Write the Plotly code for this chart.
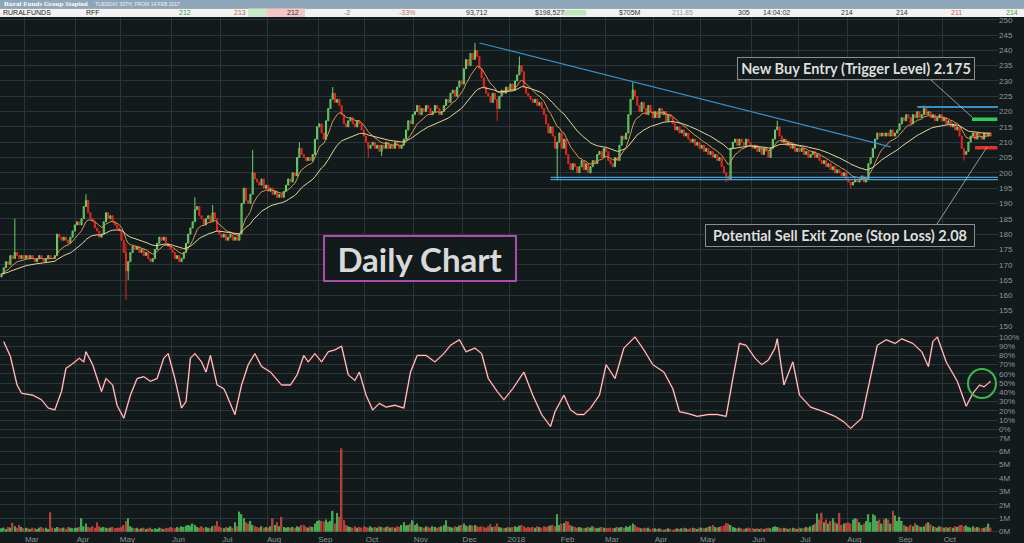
import pandas as pd
import plotly.graph_objects as go

# ---------------- DATA (prices in cents) ----------------
start_date = "2017-02-14"
first_open = 166

close_2017 = [
    # Feb (from 14th)
    167, 169, 171, 170, 173, 172, 174, 173, 172, 173, 172,
    # Mar
    173, 172, 173, 172, 171, 172, 173, 172, 171, 172, 173, 172, 172, 173, 180, 179, 178, 179, 178, 177, 179, 181, 183,
    # Apr
    184, 183, 185, 189, 191, 187, 185, 184, 182, 181, 179, 180, 184, 187, 185, 186, 184, 183, 182, 181,
    # May
    178, 174, 168, 171, 174, 176, 175, 176, 174, 175, 173, 174, 172, 171, 172, 175, 177, 179, 178, 179, 177, 176, 175,
    # Jun
    174, 172, 173, 171, 172, 174, 177, 180, 182, 184, 188, 189, 186, 185, 183, 185, 186, 184, 187, 185, 181, 180,
    # Jul
    179, 180, 178, 179, 180, 178, 179, 178, 180, 190, 195, 191, 190, 193, 200, 198, 197, 196, 198, 195, 196,
    # Aug
    194, 195, 193, 194, 192, 193, 192, 194, 196, 198, 197, 200, 199, 205, 208, 206, 205, 204, 205, 204, 206, 211, 215,
    # Sep
    216, 213, 211, 217, 221, 224, 226, 223, 224, 222, 219, 216, 215, 217, 218, 216, 215, 217, 216, 214, 212,
    # Oct
    210, 208, 209, 210, 208, 209, 207, 209, 208, 210, 208, 209, 208, 210, 209, 208, 209, 211, 214, 217, 216, 219,
    # Nov
    220, 222, 219, 221, 220, 222, 221, 219, 220, 222, 221, 219, 220, 222, 224, 223, 226, 227, 225, 228, 230, 229,
    # Dec
    234, 237, 235, 239, 237, 240, 238, 234, 231, 228, 226, 225, 223, 226, 224, 221, 225, 227, 226, 228, 227,
]

close_2018 = [
    # Jan
    229, 227, 230, 232, 235, 233, 228, 226, 225, 224, 223, 224, 222, 223, 221, 219, 216, 213, 215, 212, 208, 210, 213,
    # Feb
    208, 211, 206, 203, 201, 203, 202, 200, 202, 204, 201, 203, 200, 202, 204, 203, 206, 207, 205, 208,
    # Mar
    207, 204, 203, 202, 205, 204, 209, 212, 211, 213, 219, 224, 227, 225, 222, 220, 223, 221, 219, 222, 220, 218,
    # Apr
    220, 218, 221, 219, 220, 217, 219, 218, 216, 214, 215, 213, 214, 212, 213, 211, 210, 211, 209, 210, 208,
    # May
    209, 207, 208, 206, 207, 205, 206, 204, 205, 202, 200, 199, 198, 208, 210, 211, 209, 211, 210, 209, 211, 210, 209,
    # Jun
    208, 209, 207, 208, 206, 208, 207, 205, 208, 211, 214, 215, 212, 210, 211, 209, 210, 208, 209, 207, 208,
    # Jul
    207, 208, 206, 207, 205, 206, 207, 205, 206, 204, 203, 204, 202, 203, 201, 202, 200, 201, 200, 199, 200, 198,
    # Aug
    197, 196, 197, 198, 197, 198, 199, 197, 198, 203, 205, 208, 211, 213, 212, 213, 212, 213, 212, 214, 212, 213, 214,
    # Sep
    216, 218, 217, 219, 218, 216, 219, 218, 220, 218, 219, 221, 219, 220, 218, 219, 217, 218, 219, 217,
    # Oct
    218, 216, 217, 215, 216, 214, 215, 212, 208, 206, 207, 210, 212, 213, 211, 213, 212, 211, 213, 212, 213, 212,
]

# notable wicks: day index -> (high, low)  (None = body edge)
wicks = {
    6: (185, None), 38: (193, None), 56: (177, 158.5), 57: (None, 165), 87: (192, None),
    95: (189.5, None), 113: (207.5, None), 134: (210, None), 149: (228, None), 165: (None, 205),
    171: (None, 205.5), 213: (242.4, None), 223: (None, 217), 233: (238, None), 250: (None, 197.7),
    284: (229.5, None), 326: (None, 197), 349: (217, None), 382: (None, 195), 415: (222, None),
    433: (None, 204),
}

# volume in millions
vol_2017 = [
    0.25, 0.3, 0.2, 0.35, 0.3, 0.65, 0.4, 0.3, 0.5, 0.35, 0.25,
    0.3, 0.25, 0.2, 0.3, 0.25, 0.2, 0.3, 0.35, 0.25, 0.3, 0.2, 1.45, 0.3, 0.25, 0.35, 0.3, 0.25, 0.3, 0.2, 0.35, 0.3, 0.25, 0.3,
    0.3, 0.35, 1.0, 0.4, 0.6, 0.35, 0.3, 0.4, 0.3, 0.7, 0.4, 0.3, 0.35, 0.3, 0.25, 0.3, 0.35, 0.25, 0.3, 0.3,
    0.35, 0.5, 0.8, 1.0, 0.4, 0.3, 0.25, 0.3, 0.2, 0.25, 0.3, 0.2, 0.25, 0.3, 0.2, 0.25, 0.2, 0.3, 0.25, 0.2, 0.3, 0.25, 0.35,
    0.3, 0.25, 0.35, 0.3, 0.4, 0.35, 0.45, 0.5, 0.45, 0.6, 0.5, 0.35, 0.3, 0.4, 0.3, 0.35, 0.3, 0.25, 0.4, 0.45, 0.8, 0.4,
    0.3, 0.25, 0.35, 0.3, 0.4, 0.3, 0.7, 0.4, 1.5, 1.3, 1.0, 0.7, 0.6, 0.8, 0.5, 0.4, 0.35, 0.3, 0.4, 0.3, 0.35,
    0.3, 0.4, 1.0, 0.5, 0.7, 0.4, 1.1, 0.35, 0.3, 0.35, 0.3, 0.35, 0.3, 0.4, 0.35, 0.5, 0.5, 0.35, 0.3, 0.4, 0.35, 0.6, 0.8,
    0.85, 0.8, 0.75, 0.9, 0.7, 0.8, 1.55, 0.6, 1.4, 1.1, 6.2, 0.85, 0.5, 0.4, 0.35, 0.3, 0.4, 0.3, 0.35, 0.3, 0.4,
    0.35, 0.3, 0.4, 0.3, 0.35, 0.3, 0.4, 0.35, 0.3, 0.35, 0.4, 0.3, 0.35, 0.3, 0.4, 0.35, 0.5, 0.7, 0.45, 0.5, 0.6, 0.85,
    0.5, 0.6, 0.4, 0.35, 0.3, 0.4, 0.35, 0.3, 0.4, 0.35, 0.3, 0.35, 0.4, 0.5, 0.85, 0.4, 0.35, 0.3, 0.4, 0.35, 0.45, 0.5,
    0.6, 0.45, 0.4, 0.5, 0.45, 0.5, 0.4, 0.35, 0.4, 0.35, 0.3, 0.4, 0.55, 0.35, 0.4, 0.6, 0.35, 0.3, 0.25, 0.3, 0.35,
]
vol_2018 = [
    0.3, 0.35, 0.4, 0.35, 0.45, 0.5, 0.4, 0.3, 0.35, 0.3, 0.35, 0.3, 0.4, 0.35, 0.3, 0.4, 0.35, 0.4, 0.45, 0.5, 0.4, 1.3, 0.5,
    0.6, 0.65, 0.8, 0.75, 0.5, 0.4, 0.35, 0.3, 0.35, 0.3, 0.25, 0.3, 0.35, 0.3, 0.4, 0.3, 0.25, 0.3, 0.35, 0.3,
    0.3, 0.25, 0.3, 0.25, 0.3, 0.35, 0.3, 0.35, 0.3, 0.4, 0.35, 0.45, 0.6, 0.5, 0.35, 0.3, 0.25, 0.3, 0.25, 0.3, 0.2, 0.25,
    0.25, 0.2, 0.25, 0.2, 0.15, 0.2, 0.25, 0.2, 0.15, 0.2, 0.25, 0.2, 0.25, 0.3, 0.25, 0.2, 0.25, 0.3, 0.25, 0.2, 0.3,
    0.3, 0.25, 0.3, 0.35, 0.4, 0.5, 0.35, 0.3, 0.35, 0.4, 0.45, 0.65, 0.6, 0.5, 0.35, 0.3, 0.25, 0.3, 0.25, 0.2, 0.25, 0.3, 0.25,
    0.25, 0.2, 0.25, 0.2, 0.25, 0.2, 0.25, 0.3, 0.25, 0.35, 0.4, 0.35, 0.3, 0.25, 0.3, 0.25, 0.2, 0.25, 0.3, 0.25, 0.2,
    0.3, 0.25, 0.3, 0.35, 0.3, 0.4, 0.5, 0.6, 1.35, 0.9, 1.4, 0.7, 0.9, 0.6, 0.8, 1.0, 0.7, 0.6, 1.4, 0.5, 0.6, 0.65,
    0.7, 0.6, 0.9, 1.0, 0.95, 0.7, 0.5, 0.6, 0.8, 1.3, 0.7, 1.3, 1.2, 0.8, 0.9, 0.6, 0.9, 1.0, 0.9, 0.6, 1.55, 1.2, 0.8,
    1.1, 0.8, 0.5, 0.4, 0.35, 0.5, 0.4, 0.65, 0.5, 0.4, 0.35, 0.4, 0.6, 0.7, 0.55, 0.4, 0.35, 0.3, 0.4, 0.35,
    0.3, 0.35, 0.3, 0.35, 0.3, 0.4, 0.35, 0.45, 0.5, 0.4, 0.45, 0.35, 0.3, 0.4, 0.3, 0.35, 0.3, 0.25, 0.3, 0.35, 0.6, 0.3,
]

# stochastic oscillator (%), sampled at trading-day indices
osc_day = [1, 4, 7, 9, 14, 18, 21, 24, 27, 29, 32, 35, 37, 38, 41, 44, 45, 47, 50, 52, 55, 58, 61, 64, 67, 70,
           73, 75, 78, 81, 83, 85, 87, 90, 92, 94, 97, 100, 101, 105, 108, 111, 114, 117, 121, 126, 130, 133,
           136, 138, 141, 144, 147, 150, 153, 156, 159, 161, 164, 167, 170, 173, 177, 181, 184, 187, 191, 195,
           199, 202, 206, 209, 213, 216, 219, 223, 226, 230, 235, 239, 243, 247, 249, 253, 256, 259, 262, 265,
           269, 272, 276, 280, 285, 289, 293, 298, 302, 305, 309, 313, 318, 322, 326, 329, 332, 335, 339, 342,
           345, 348, 349, 352, 356, 359, 364, 370, 375, 379, 382, 387, 391, 394, 398, 402, 405, 410, 414, 417,
           419, 421, 425, 430, 434, 437, 440, 442, 445]
osc_pct = [95, 79, 48, 39, 37, 32, 23, 21, 41, 66, 71, 77, 73, 84, 70, 48, 41, 55, 48, 26, 12, 37, 55, 57, 52, 55,
           77, 82, 55, 23, 30, 77, 82, 73, 62, 80, 48, 44, 39, 16, 48, 70, 82, 68, 62, 48, 48, 59,
           80, 73, 82, 73, 84, 86, 90, 59, 53, 62, 37, 21, 28, 24, 26, 23, 62, 80, 80, 73,
           82, 91, 97, 84, 88, 82, 55, 41, 32, 44, 62, 37, 16, 3, 19, 37, 21, 16, 16, 23,
           37, 70, 55, 88, 100, 86, 70, 62, 44, 19, 17, 14, 16, 16, 14, 55, 93, 91, 77, 70,
           75, 88, 98, 48, 73, 37, 24, 19, 14, 8, 1, 12, 59, 91, 97, 93, 98, 93, 84, 68,
           95, 100, 73, 52, 25, 39, 48, 46, 52]

month_names = {1: "2018", 2: "Feb", 3: "Mar", 4: "Apr", 5: "May", 6: "Jun", 7: "Jul",
               8: "Aug", 9: "Sep", 10: "Oct", 11: "Nov", 12: "Dec"}

# levels drawn on the chart
trend_start = (215, 242.4)
trend_end = (400, 208.5)
support_levels = [198.5, 197.8]
support_from = 247
resistance_level = 221.5
resistance_from = 412
buy_level = 217.5
stop_level = 208.2

# ---------------- BUILD ----------------
close = close_2017 + close_2018
vol = vol_2017 + vol_2018
n = len(close)
dates = pd.bdate_range(start_date, periods=n)
idx = list(range(n))
opn = [first_open] + close[:-1]
high, low = [], []
for i in idx:
    hi, lo = max(opn[i], close[i]), min(opn[i], close[i])
    if i in wicks:
        h_, l_ = wicks[i]
        if h_ is not None:
            hi = max(hi, h_)
        if l_ is not None:
            lo = min(lo, l_)
    high.append(hi)
    low.append(lo)

cs = pd.Series(close, dtype=float)
ema_fast = cs.ewm(span=10, adjust=False).mean()
ema_slow = cs.ewm(span=30, adjust=False).mean()

vcol = ["#46a853" if close[i] > opn[i] else "#b3403d" for i in idx]
vlen = min(len(vol), n)

# month boundaries
tickvals, ticktext = [], []
for i in range(1, n):
    if dates[i].month != dates[i - 1].month:
        tickvals.append(i - 0.5)
        ticktext.append(month_names[dates[i].month])

BG = "#121a1c"
GRID = "#2a363b"
LBL = "#8b979b"
TOP, BOT, PW = 17, 533, 998
PH = BOT - TOP


def px(x):
    return x / PW


def py(y):
    return (BOT - y) / PH


fig = go.Figure()
fig.add_trace(go.Candlestick(
    x=idx, open=opn, high=high, low=low, close=close, xaxis="x", yaxis="y",
    increasing=dict(line=dict(color="#6fd06c", width=1), fillcolor="rgba(120,200,120,0.45)"),
    decreasing=dict(line=dict(color="#e3261f", width=1), fillcolor="#e3261f"),
    whiskerwidth=0, showlegend=False, hoverinfo="skip"))
fig.add_trace(go.Scatter(x=idx, y=ema_fast, mode="lines", line=dict(color="#d49a4e", width=1),
                         xaxis="x", yaxis="y", showlegend=False, hoverinfo="skip"))
fig.add_trace(go.Scatter(x=idx, y=ema_slow, mode="lines", line=dict(color="#e6d59c", width=1),
                         xaxis="x", yaxis="y", showlegend=False, hoverinfo="skip"))
fig.add_trace(go.Scatter(x=osc_day, y=osc_pct, mode="lines", line=dict(color="#a8383a", width=1.8),
                         xaxis="x2", yaxis="y2", showlegend=False, hoverinfo="skip"))
fig.add_trace(go.Scatter(x=osc_day, y=osc_pct, mode="lines", line=dict(color="#f0f0f0", width=0.9),
                         xaxis="x2", yaxis="y2", showlegend=False, hoverinfo="skip"))
fig.add_trace(go.Bar(x=idx[:vlen], y=vol[:vlen], marker=dict(color=vcol[:vlen], line=dict(width=0)),
                     xaxis="x3", yaxis="y3", showlegend=False, hoverinfo="skip"))

xr = [-0.67, 448.3]
axis_common = dict(showgrid=True, gridcolor=GRID, gridwidth=1, zeroline=False, showline=False,
                   ticks="", tickfont=dict(family="Liberation Sans, Arial", size=8, color=LBL))
fig.update_layout(
    width=1024, height=543, autosize=False,
    margin=dict(l=0, r=1024 - PW, t=TOP, b=543 - BOT),
    paper_bgcolor=BG, plot_bgcolor=BG, bargap=0.3, showlegend=False,
    xaxis=dict(axis_common, domain=[0, 1], anchor="y", range=xr, tickmode="array", tickvals=tickvals,
               showticklabels=False, rangeslider=dict(visible=False)),
    xaxis2=dict(axis_common, domain=[0, 1], anchor="y2", matches="x", tickmode="array",
                tickvals=tickvals, showticklabels=False),
    xaxis3=dict(axis_common, domain=[0, 1], anchor="y3", matches="x", tickmode="array",
                tickvals=tickvals, ticktext=ticktext, showticklabels=True, ticklabelshift=7,
                ticklabelstandoff=0),
    yaxis=dict(axis_common, domain=[py(332), 1], anchor="x", side="right", range=[148.04, 250.88],
               tickmode="linear", tick0=0, dtick=5),
    yaxis2=dict(axis_common, domain=[py(434), py(332)], anchor="x2", side="right", range=[-5.1, 105.4],
                tickmode="array", tickvals=list(range(0, 101, 10)),
                ticktext=[f"{v}%" for v in range(0, 101, 10)]),
    yaxis3=dict(axis_common, domain=[0, py(434)], anchor="x3", side="right", range=[-0.1, 7.28],
                tickmode="array", tickvals=list(range(0, 8)), ticktext=[f"{v}M" for v in range(0, 8)]),
)

shapes = []
# trend / support / resistance / trigger lines in data coordinates
shapes.append(dict(type="line", xref="x", yref="y", x0=trend_start[0], y0=trend_start[1],
                   x1=trend_end[0], y1=trend_end[1], line=dict(color="#3b8fc4", width=1.2)))
for lv in support_levels:
    shapes.append(dict(type="line", xref="x", yref="y", x0=support_from, x1=xr[1], y0=lv, y1=lv,
                       line=dict(color="#4aa0d2", width=1.2)))
shapes.append(dict(type="line", xref="x", yref="y", x0=resistance_from, x1=xr[1], y0=resistance_level,
                   y1=resistance_level, line=dict(color="#3b8fc4", width=2)))
shapes.append(dict(type="line", xref="x", yref="y", x0=436.6, x1=448, y0=buy_level, y1=buy_level,
                   line=dict(color="#2fcc55", width=3.5)))
shapes.append(dict(type="line", xref="x", yref="y", x0=438, x1=448, y0=stop_level, y1=stop_level,
                   line=dict(color="#e53030", width=3.5)))
# connector lines
shapes.append(dict(type="line", xref="paper", yref="paper", x0=px(931), y0=py(80), x1=px(972), y1=py(117),
                   line=dict(color="#b8b8b8", width=0.8)))
shapes.append(dict(type="line", xref="paper", yref="paper", x0=px(937), y0=py(224), x1=px(987), y1=py(147),
                   line=dict(color="#b8b8b8", width=0.8)))
# circle on oscillator
shapes.append(dict(type="circle", xref="x2", yref="y2", x0=434.8, x1=447.4, y0=33.9, y1=65.3,
                   line=dict(color="#3db94a", width=2)))
# header bars
shapes.append(dict(type="rect", xref="paper", yref="paper", x0=px(0), x1=px(1024), y0=py(8.5), y1=py(0),
                   fillcolor="#8ea6b9", line=dict(width=0), layer="above"))
shapes.append(dict(type="rect", xref="paper", yref="paper", x0=px(0), x1=px(1024), y0=py(17), y1=py(8.5),
                   fillcolor="#f2f2f2", line=dict(width=0), layer="above"))
shapes.append(dict(type="rect", xref="paper", yref="paper", x0=px(248), x1=px(267), y0=py(17), y1=py(8.5),
                   fillcolor="#c9ebc9", line=dict(width=0), layer="above"))
shapes.append(dict(type="rect", xref="paper", yref="paper", x0=px(267), x1=px(305), y0=py(17), y1=py(8.5),
                   fillcolor="#f4c6c6", line=dict(width=0), layer="above"))
shapes.append(dict(type="rect", xref="paper", yref="paper", x0=px(563), x1=px(586), y0=py(15.5), y1=py(10),
                   fillcolor="#bfe6bf", line=dict(width=0), layer="above"))
fig.update_layout(shapes=shapes)

ann = []
label_font = dict(family="Lato, Open Sans, sans-serif", size=14.5, color="#dedede", weight="bold")
ann.append(dict(xref="paper", yref="paper", x=px(856), y=py(69), text="New Buy Entry (Trigger Level) 2.175",
                showarrow=False, font=label_font, bordercolor="#8c8c8c", borderwidth=1, borderpad=1,
                bgcolor=BG, width=234, height=19, xanchor="center", yanchor="middle"))
ann.append(dict(xref="paper", yref="paper", x=px(840), y=py(235),
                text="Potential Sell Exit Zone (Stop Loss) 2.08",
                showarrow=False, font=label_font, bordercolor="#8c8c8c", borderwidth=1, borderpad=1,
                bgcolor=BG, width=266, height=19, xanchor="center", yanchor="middle"))
ann.append(dict(xref="paper", yref="paper", x=px(419.5), y=py(258), text="Daily Chart", showarrow=False,
                font=dict(family="Lato, Open Sans, sans-serif", size=33, color="#d9d9d9", weight="bold"),
                bordercolor="#a94ea9", borderwidth=2, borderpad=1, bgcolor=BG, width=188, height=41,
                xanchor="center", yanchor="middle"))

# header texts
ann.append(dict(xref="paper", yref="paper", x=px(2), y=py(4.3), text="<b>Rural Funds Group Stapled</b>",
                showarrow=False, xanchor="left", yanchor="middle",
                font=dict(family="Liberation Serif, serif", size=7, color="#ffffff")))
ann.append(dict(xref="paper", yref="paper", x=px(93), y=py(4.5), text="TUESDAY 30TH, FROM 14 FEB 2017",
                showarrow=False, xanchor="left", yanchor="middle",
                font=dict(family="Liberation Sans, Arial", size=5, color="#eef2f6")))
header_cells = [("RURALFUNDS", 1, "left", "#222222"), ("RFF", 84, "left", "#222222"),
                ("212", 185, "center", "#3a9a3a"), ("213", 240, "center", "#c05a5a"),
                ("212", 293, "center", "#333333"), ("-2", 347, "center", "#777777"),
                ("-33%", 407, "center", "#b07474"), ("93,712", 477, "center", "#333333"),
                ("$198,527", 549, "center", "#333333"), ("$705M", 630, "center", "#333333"),
                ("211.85", 682, "center", "#9a9a9a"), ("305", 744, "center", "#333333"),
                ("14:04:02", 776, "center", "#333333"), ("214", 847, "center", "#333333"),
                ("214", 902, "center", "#333333"), ("211", 956, "center", "#d06060"),
                ("214", 1012, "center", "#40a040")]
for txt, x, anc, col in header_cells:
    ann.append(dict(xref="paper", yref="paper", x=px(x), y=py(12.8), text=txt, showarrow=False,
                    xanchor=anc, yanchor="middle",
                    font=dict(family="Liberation Sans, Arial", size=7, color=col)))
fig.update_layout(annotations=ann)

fig.write_html("out.html", include_plotlyjs=True, config={"displayModeBar": False},
               post_script="document.body.style.margin='0';document.body.style.overflow='hidden';")
